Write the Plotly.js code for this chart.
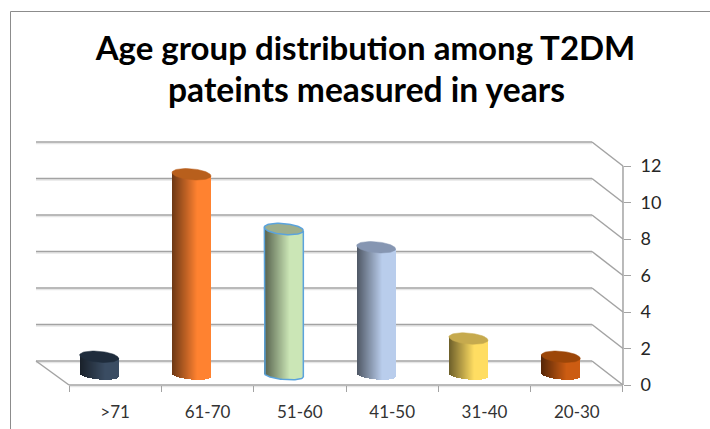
<!DOCTYPE html>
<html>
<head>
<meta charset="utf-8">
<script src="https://cdn.plot.ly/plotly-3.0.1.min.js"></script>
<style>html,body{margin:0;padding:0;background:#fff}#c{width:710px;height:429px}</style>
</head>
<body>
<div id="c"></div>
<script>
const categories = ['>71', '61-70', '51-60', '41-50', '31-40', '20-30'];
const values = [1, 11, 8, 7, 2, 1];
const yTicks = [0, 2, 4, 6, 8, 10, 12];
const sideColors = ['#3a4c62', '#ff8230', '#cbe6b6', '#b9cdec', '#ffdd62', '#cc5c12'];
const capColors = ['#1f2c3c', '#b85f1c', '#9dae8c', '#8696b2', '#c6aa4e', '#9c4608'];
const outlineColors = [null, null, '#5ba3dc', null, null, null];
const titleLines = ['Age group distribution among T2DM', 'pateints measured in years'];

// geometry of the pseudo-3D look, expressed in pixels and converted to axis units
const W = 710, H = 429;
const plot = {l: 30, r: 640, t: 130, b: 395};
const pxCat = 92.33, pxVal = 18.25, originX = 115.17, originY = 385;
const backLeft = 33 / pxCat, backRight = 31 / pxCat, backUp = 24 / pxVal;
const barShift = 16 / pxCat, barHalf = 19.5 / pxCat, barBase = 10 / pxVal;
const ry = 4.5 / pxVal, tilt = 1.7 / pxVal, ryCap = 5.5 / pxVal;
const nStrips = 78;
const gridColor = '#a3a3a3', shadowColor = '#e6e6e6', frameColor = '#8c8c8c';
const fontFamily = 'Lato, Carlito, sans-serif';

const x0 = -0.5, x1 = categories.length - 0.5;

function shade(hex, t) {
  const f = t < 0.3 ? 0.42 + 0.58 * (t + 1) / 1.3 : 1;
  const n = parseInt(hex.slice(1), 16);
  const c = [n >> 16, (n >> 8) & 255, n & 255].map(v => Math.round(v * f));
  return `rgb(${c[0]},${c[1]},${c[2]})`;
}

const traces = [];
for (let s = 0; s < nStrips; s++) {
  const t = -1 + 2 * (s + 0.5) / nStrips;
  const low = tilt * t + ry * Math.sqrt(1 - t * t);
  traces.push({
    type: 'bar',
    x: values.map((v, i) => i - barShift + t * barHalf),
    y: values.map(v => v + low - tilt * t),
    base: values.map(() => barBase - low),
    width: values.map(() => 2 * barHalf / nStrips * 1.25),
    marker: {color: sideColors.map(c => shade(c, t)), line: {width: 0}},
    hoverinfo: 'skip', showlegend: false
  });
}

const angles = [];
for (let a = 0; a <= 72; a++) angles.push(a / 72 * 2 * Math.PI);

values.forEach((v, i) => {
  const cx = i - barShift, cy = barBase + v;
  const ex = angles.map(a => cx + barHalf * Math.cos(a));
  const ey = angles.map(a => cy - tilt * Math.cos(a) + ryCap * Math.sin(a));
  traces.push({
    type: 'scatter', mode: 'lines', x: ex, y: ey, fill: 'toself', fillcolor: capColors[i],
    line: {color: outlineColors[i] || capColors[i], width: outlineColors[i] ? 1.5 : 0.5},
    hoverinfo: 'skip', showlegend: false
  });
  if (outlineColors[i]) {
    const lowArc = angles.filter(a => a >= Math.PI);
    const bx = lowArc.map(a => cx + barHalf * Math.cos(a));
    const by = lowArc.map(a => barBase - tilt * Math.cos(a) + ry * Math.sin(a));
    traces.push({
      type: 'scatter', mode: 'lines',
      x: [cx - barHalf].concat(bx, [cx + barHalf]),
      y: [cy + tilt].concat(by, [cy - tilt]),
      line: {color: outlineColors[i], width: 1.5},
      hoverinfo: 'skip', showlegend: false
    });
  }
});

function seg(xa, ya, xb, yb, color, width) {
  return {type: 'line', xref: 'x', yref: 'y', x0: xa, y0: ya, x1: xb, y1: yb,
          line: {color: color, width: width}, layer: 'below'};
}
const shadowDy = 1.5 / pxVal;
const shapes = [];
yTicks.forEach(v => {
  const by = v + backUp;
  shapes.push(seg(x0 - backLeft, by - shadowDy, x1 - backRight, by - shadowDy, shadowColor, 1.5));
  shapes.push(seg(x1 - backRight, by, x1, v, gridColor, 1.5));
  shapes.push(seg(x0 - backLeft, by, x1 - backRight, by, gridColor, 1.7));
});
shapes.push(seg(x0 - backLeft, backUp, x0, 0, gridColor, 1.5));
shapes.push(seg(x0, -shadowDy, x1, -shadowDy, shadowColor, 1.5));
shapes.push(seg(x0, 0, x1, 0, gridColor, 1.7));
shapes.push(seg(x1, 0, x1, yTicks[yTicks.length - 1], gridColor, 1.5));

// outer border of the chart
const pw = plot.r - plot.l, ph = plot.b - plot.t;
const px = p => (p - plot.l) / pw, py = p => (plot.b - p) / ph;
const frame = (ax, ay, bx, by) => ({type: 'line', xref: 'paper', yref: 'paper',
  x0: px(ax), y0: py(ay), x1: px(bx), y1: py(by), line: {color: frameColor, width: 1}});
shapes.push(frame(10.5, 11.5, 710, 11.5), frame(10.5, 11.5, 10.5, 429));

const xRange = [(plot.l - originX) / pxCat, (plot.r - originX) / pxCat];
const yRange = [(originY - plot.b) / pxVal, (originY - plot.t) / pxVal];
const titleFont = {family: fontFamily, size: 33, weight: 700, color: '#000'};

const layout = {
  width: W, height: H,
  margin: {l: plot.l, r: W - plot.r, t: plot.t, b: H - plot.b, pad: 0},
  paper_bgcolor: '#fff', plot_bgcolor: 'rgba(0,0,0,0)',
  barmode: 'overlay', bargap: 0, showlegend: false,
  title: {
    text: titleLines[0],
    font: titleFont,
    x: 365.5 / W, xanchor: 'center', y: 1 - 37 / H, yanchor: 'top'
  },
  annotations: [{
    text: titleLines[1], font: Object.assign({}, titleFont, {size: 33.6}), showarrow: false,
    xref: 'paper', yref: 'paper', x: px(366), xanchor: 'center',
    y: py(67), yanchor: 'top'
  }],
  xaxis: {
    type: 'linear', range: xRange, anchor: 'free', position: py(originY),
    tickmode: 'array', tickvals: categories.map((c, i) => i), ticktext: categories,
    ticks: '', ticklabelstandoff: 15,
    minor: {tickmode: 'array', tickvals: categories.map((c, i) => i - 0.5).concat([x1]),
            ticks: 'outside', ticklen: 6, tickwidth: 1, tickcolor: gridColor, showgrid: false},
    showgrid: false, zeroline: false, showline: false,
    tickfont: {family: fontFamily, size: 17, color: '#333'}
  },
  yaxis: {
    type: 'linear', range: yRange, anchor: 'free', position: px(originX + x1 * pxCat), side: 'right',
    tickmode: 'array', tickvals: yTicks, ticktext: yTicks.map(String),
    ticks: 'outside', ticklen: 7, tickwidth: 1, tickcolor: gridColor, ticklabelstandoff: 6,
    showgrid: false, zeroline: false, showline: false,
    tickfont: {family: fontFamily, size: 18, color: '#262626'}
  },
  shapes: shapes
};
Plotly.newPlot('c', traces, layout, {displayModeBar: false, staticPlot: true});
</script>
</body>
</html>
